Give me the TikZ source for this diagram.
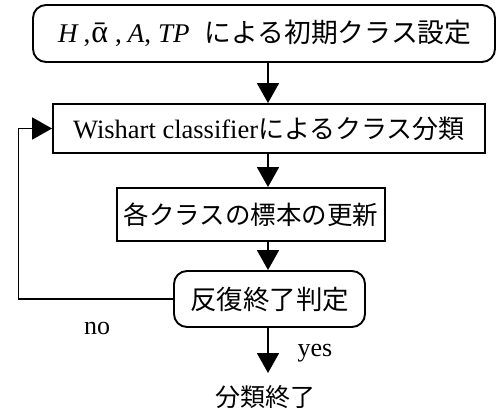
\documentclass[tikz,border=0pt]{standalone}
\usepackage{fontspec}
\setmainfont{Liberation Serif}
\newfontfamily\jp{Noto Sans CJK JP}
\usetikzlibrary{arrows.meta}
\newcommand{\baralpha}{{\fontsize{32}{30}\selectfont ᾱ}}
\tikzset{
  box/.style={draw, line width=1.9pt, inner sep=0pt, align=center},
  rbox/.style={box, rounded corners=13pt},
  arr/.style={line width=1.9pt, -{Triangle[length=20pt,width=22pt]}},
  lbl/.style={inner sep=0pt, font=\fontsize{26}{28}\selectfont},
}
\begin{document}
\begin{tikzpicture}[x=1pt,y=-1pt]
\useasboundingbox (0,0) rectangle (497,409);
\coordinate (ax) at (268,0);
\coordinate (lx) at (18.5,0);
\node[rbox, minimum width=462pt, minimum height=57pt, text width=440pt, align=left] (b1) at (264,33.5)
  {\hspace*{14pt}\fontsize{27}{28}\selectfont\textit{H}\hspace{5pt},\hspace{1pt}\baralpha\hspace{7pt},\hspace{6pt}\textit{A},\hspace{7pt}\textit{TP}\hspace{15pt}{\jp\fontsize{26.8}{28}\selectfont による初期クラス設定}};
\node[box, minimum width=432pt, minimum height=49pt] (b2) at (269,128.5)
  {\fontsize{26.5}{28}\selectfont Wishart classifier{\jp\fontsize{26}{28}\selectfont によるクラス分類}};
\node[box, minimum width=268pt, minimum height=53pt] (b3) at (251,214.5)
  {\jp\fontsize{25.5}{28}\selectfont 各クラスの標本の更新};
\node[rbox, minimum width=191pt, minimum height=56pt] (b4) at (269.5,299)
  {\jp\fontsize{26.5}{28}\selectfont 反復終了判定};
\node[lbl, anchor=north, inner ysep=12pt] (end) at (265,373)
  {\jp\fontsize{25}{27}\selectfont 分類終了};
\node[lbl] (no) at (97,328) {no};
\node[lbl] (yes) at (315,353) {yes};
\draw[arr] (b1.south -| ax) -- (b2.north -| ax);
\draw[arr] (b2.south -| ax) -- (b3.north -| ax);
\draw[arr] (b3.south -| ax) -- (b4.north -| ax);
\draw[arr] (b4.south -| ax) -- (end.north -| ax);
\draw[arr] (b4.west) -- (b4.west -| lx) |- (b2.west);
\end{tikzpicture}
\end{document}
